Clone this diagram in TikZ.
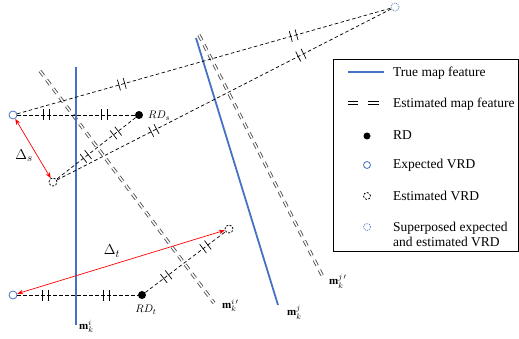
\documentclass[tikz,border=0pt]{standalone}
\usepackage{fontspec}
\setmainfont{Liberation Serif}
\usetikzlibrary{arrows.meta}
\definecolor{mapblue}{HTML}{4472C4}
\definecolor{estgray}{HTML}{505050}
\begin{document}
\begin{tikzpicture}[x=1pt,y=-1pt,
 truefeat/.style={mapblue, line width=1.8pt},
 estfeat/.style={estgray, double=white, double distance=1.5pt, line width=0.9pt, dash pattern=on 6pt off 5pt},
 conn/.style={black, line width=0.7pt, dash pattern=on 3.5pt off 2.5pt},
 expvrd/.style={circle, draw=mapblue, line width=0.8pt, minimum size=8pt, inner sep=0pt},
 estvrd/.style={circle, draw=black, dash pattern=on 2pt off 1.5pt, line width=0.8pt, minimum size=8pt, inner sep=0pt},
 supvrd/.style={circle, draw=mapblue, dash pattern=on 1pt off 1pt, line width=0.7pt, minimum size=8pt, inner sep=0pt},
 rd/.style={circle, fill=black, minimum size=8pt, inner sep=0pt},
 delta/.style={red, line width=0.7pt, {Stealth[length=6pt,width=4.5pt]}-{Stealth[length=6pt,width=4.5pt]}},
 lbl/.style={inner sep=0pt, font=\fontsize{11}{13}\selectfont},
 leg/.style={anchor=west, inner sep=0pt, font=\fontsize{13.5}{15}\selectfont, align=left},
 pics/dtick/.style={code={\draw[solid,black,line width=0.7pt] (-3,-5.5)--(-3,5.5) (3,-5.5)--(3,5.5);}}
]
\useasboundingbox (0,0) rectangle (519,339);

% map features
\draw[estfeat] (40,71) -- (214,303);
\draw[estfeat] (199,35) -- (323,277);
\draw[truefeat] (76,67) -- (76,325);
\draw[truefeat] (196,38) -- (278,305);
\node[lbl, anchor=west] (mi) at (79,326) {$\mathbf{m}_k^{i}$};
\node[lbl, anchor=west] (mip) at (222,305) {$\mathbf{m}_k^{i\,\prime}$};
\node[lbl, anchor=west] (mj) at (287,312) {$\mathbf{m}_k^{j}$};
\node[lbl, anchor=west] (mjp) at (329,281) {$\mathbf{m}_k^{j\,\prime}$};

% nodes
\node[expvrd] (es) at (13,115) {};
\node[rd] (rds) at (139,115) {};
\node[estvrd] (vs) at (53,182) {};
\node[supvrd] (sup) at (395,7) {};
\node[expvrd] (et) at (13,295) {};
\node[rd] (rdt) at (142,295) {};
\node[estvrd] (vt) at (229,229) {};
\node[lbl, anchor=west] (rdsl) at (148,116) {$RD_s$};
\node[lbl] (rdtl) at (146,310) {$RD_t$};

% connectors
\draw[conn] (es) -- (sup) pic[pos=0.28,sloped]{dtick} pic[pos=0.74,sloped]{dtick};
\draw[conn] (vs) -- (sup) pic[pos=0.29,sloped]{dtick} pic[pos=0.73,sloped]{dtick};
\draw[conn] (es) -- (rds) pic[pos=0.25,sloped]{dtick} pic[pos=0.74,sloped]{dtick};
\draw[conn] (rds) -- (vs) pic[pos=0.25,sloped]{dtick} pic[pos=0.63,sloped]{dtick};
\draw[conn] (et) -- (rdt) pic[pos=0.23,sloped]{dtick} pic[pos=0.74,sloped]{dtick};
\draw[conn] (rdt) -- (vt) pic[pos=0.26,sloped]{dtick} pic[pos=0.75,sloped]{dtick};

% deltas
\draw[delta] (es) -- (vs);
\draw[delta] (et) -- (vt);
\node[inner sep=0pt, font=\fontsize{15}{17}\selectfont] (ds) at (24,156) {$\Delta_s$};
\node[inner sep=0pt, font=\fontsize{15}{17}\selectfont] (dt) at (112,251) {$\Delta_t$};

% legend
\node[draw=black, line width=0.8pt, minimum width=184.5pt, minimum height=192pt, anchor=north west, inner sep=0pt] (legbox) at (333,59) {};
\draw[mapblue, line width=1.8pt] (348,72) -- (384,72);
\draw[black, line width=1pt] (348,101.5) -- (358,101.5) (348,104.5) -- (358,104.5)
  (368,101.5) -- (379,101.5) (368,104.5) -- (379,104.5);
\node[rd, minimum size=7pt] (lrd) at (367,136) {};
\node[expvrd, minimum size=7pt] (lexp) at (367,165) {};
\node[estvrd, minimum size=7pt] (lest) at (367,196) {};
\node[supvrd, minimum size=7pt] (lsup) at (367,227) {};
\node[leg] (t1) at (393,73) {True map feature};
\node[leg] (t2) at (393,104) {Estimated map feature};
\node[leg] (t3) at (393,135) {RD};
\node[leg] (t4) at (393,165) {Expected VRD};
\node[leg] (t5) at (393,196) {Estimated VRD};
\node[leg] (t6) at (393,234) {Superposed expected\\and estimated VRD};
\end{tikzpicture}
\end{document}
